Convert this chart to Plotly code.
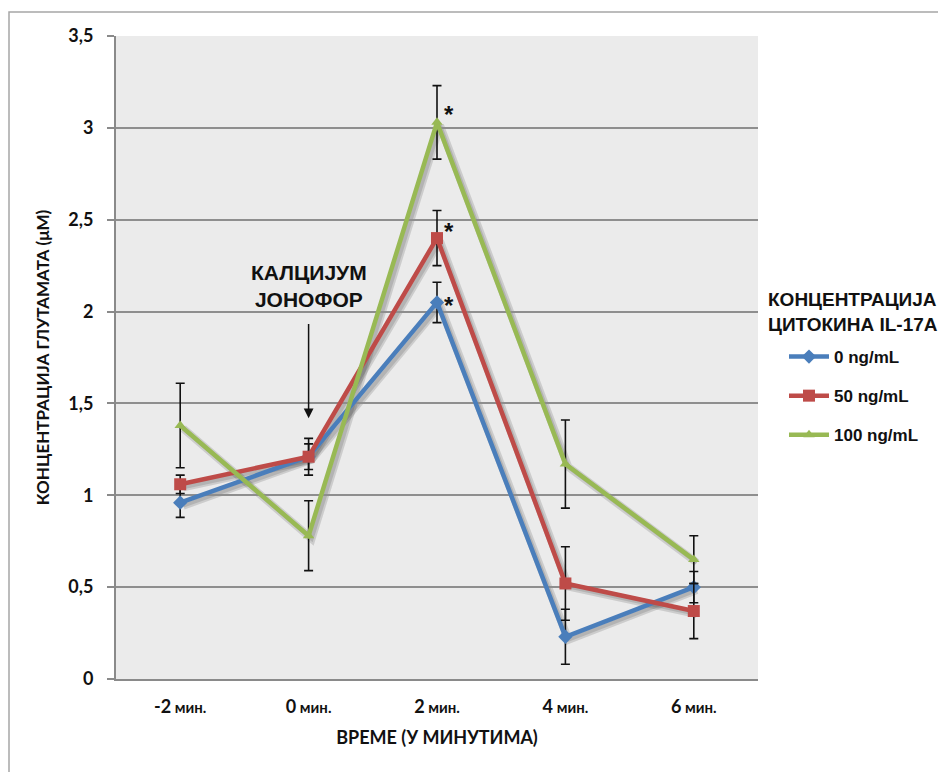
import plotly.graph_objects as go

# Time points (minutes) and glutamate concentration (µM) per IL-17A dose
times = ["-2", "0", "2", "4", "6"]
time_labels = ["-2", "0", "2", "4", "6"]

dose_names = ["0 ng/mL", "50 ng/mL", "100 ng/mL"]
glu_0 = [0.96, 1.21, 2.05, 0.23, 0.50]
glu_50 = [1.06, 1.21, 2.40, 0.52, 0.37]
glu_100 = [1.38, 0.78, 3.03, 1.17, 0.65]
err_0 = [0.08, 0.07, 0.11, 0.15, 0.085]
err_50 = [0.05, 0.10, 0.15, 0.20, 0.15]
err_100 = [0.23, 0.19, 0.20, 0.24, 0.13]

y_ticks = [0, 0.5, 1, 1.5, 2, 2.5, 3, 3.5]
significant_time = "2"

colors = ["#4a7ebb", "#be4b48", "#98b954"]
symbols = ["diamond", "square", "triangle-up"]
msizes = [11, 12, 10]

series = [glu_0, glu_50, glu_100]
errors = [err_0, err_50, err_100]

# figure geometry
FW, FH = 938, 772
ML, MR, MT, MB = 116, 180, 36, 93
W = FW - ML - MR
H = FH - MT - MB
YMAX = 3.5
SX, SY = 3, 3  # drop-shadow offset in px

CAL = "Lato, 'Open Sans', sans-serif"
ARIAL = "'Liberation Sans', Arial, sans-serif"
GRID = "#8e8e8e"

fig = go.Figure()

# soft drop shadow under each line (drawn on a slightly shifted, hidden subplot)
for vals in series:
    fig.add_trace(go.Scatter(
        x=times, y=vals, mode="lines",
        line=dict(color="rgba(0,0,0,0.13)", width=8),
        xaxis="x", yaxis="y", showlegend=False, hoverinfo="skip",
    ))
    fig.add_trace(go.Scatter(
        x=times, y=vals, mode="lines",
        line=dict(color="rgba(0,0,0,0.12)", width=4),
        xaxis="x", yaxis="y", showlegend=False, hoverinfo="skip",
    ))

for i, (name, vals, errs) in enumerate(zip(dose_names, series, errors)):
    fig.add_trace(go.Scatter(
        x=times, y=vals, name=name, mode="lines+markers",
        line=dict(color=colors[i], width=4.5),
        marker=dict(symbol=symbols[i], size=msizes[i], color=colors[i]),
        error_y=dict(type="data", array=errs, visible=True,
                     color="#111111", thickness=1.6, width=4.5),
        xaxis="x2", yaxis="y2", legendgroup=name,
    ))

# significance markers beside the 2-minute peaks
star_shift = [-3, 7, 8]
idx = times.index(significant_time)
for i, vals in enumerate(series):
    fig.add_annotation(
        x=significant_time, y=vals[idx], xref="x2", yref="y2",
        text="*", showarrow=False, xshift=12, yshift=star_shift[i],
        font=dict(family=ARIAL, size=24, color="#111111", weight="bold"),
    )

# calcium ionophore addition
fig.add_annotation(
    x=1, y=2.137, xref="x2", yref="y2",
    text="КАЛЦИЈУМ<br>ЈОНОФОР", showarrow=False,
    font=dict(family=ARIAL, size=21, color="#111111", weight="bold"),
)
fig.add_annotation(
    x=1, y=1.42, ax=1, ay=1.94, xref="x2", yref="y2", axref="x2", ayref="y2",
    text="", showarrow=True, arrowhead=2, arrowsize=1.3, arrowwidth=1.5,
    arrowcolor="#111111", standoff=0,
)

# legend heading
fig.add_annotation(
    x=(766 - ML) / W, y=(FH - MB - 312) / H, xref="paper", yref="paper",
    xanchor="left", yanchor="middle", align="left", showarrow=False,
    text="КОНЦЕНТРАЦИЈА<br>ЦИТОКИНА IL-17A",
    font=dict(family=ARIAL, size=19, color="#111111", weight="bold"),
)

tick_text = [f"{t}<span style='font-size:15px'> мин.</span>" for t in time_labels]

fig.update_layout(
    width=FW, height=FH,
    margin=dict(l=ML, r=MR, t=MT, b=MB),
    paper_bgcolor="white",
    plot_bgcolor="rgba(0,0,0,0)",
    separators=",.",
    showlegend=True,
    legend=dict(
        x=(784 - ML) / W, y=(FH - MB - 339) / H, xanchor="left", yanchor="top",
        font=dict(family=ARIAL, size=17, color="#111111", weight="bold"),
        tracegroupgap=14, bgcolor="rgba(0,0,0,0)", itemwidth=40,
    ),
    shapes=[
        # plot area background
        dict(type="rect", xref="paper", yref="paper", x0=0, x1=1, y0=0, y1=1,
             fillcolor="#ebebeb", line=dict(width=0), layer="below"),
        # outer frame
        dict(type="rect", xref="paper", yref="paper",
             x0=(9 - ML) / W, x1=1.6, y0=-0.4, y1=(FH - MB - 12) / H,
             line=dict(color="#a6a6a6", width=1.5), fillcolor="rgba(0,0,0,0)",
             layer="below"),
    ],
    # hidden axes for the shadow layer
    xaxis=dict(domain=[SX / W, 1], range=[-0.5, 4.5 - 5 * SX / W],
               type="category", categoryarray=times, visible=False),
    yaxis=dict(domain=[0, 1 - SY / H], range=[YMAX * SY / H, YMAX],
               visible=False),
    xaxis2=dict(
        domain=[0, 1], anchor="y2", type="category", categoryarray=times,
        range=[-0.5, 4.5],
        tickvals=times, ticktext=tick_text,
        tickfont=dict(family=CAL, size=18, color="#111111", weight="bold"),
        showline=True, linecolor="#8a8a8a", linewidth=2,
        showgrid=False, ticks="", ticklabelstandoff=10,
        title=dict(text="ВРЕМЕ (У МИНУТИМА)", standoff=16,
                   font=dict(family=CAL, size=18, color="#111111", weight="bold")),
    ),
    yaxis2=dict(
        domain=[0, 1], anchor="x2", range=[0, YMAX],
        tickvals=y_ticks, tickformat=".1~f",
        tickfont=dict(family=CAL, size=18, color="#111111", weight="bold"),
        showline=True, linecolor="#8a8a8a", linewidth=2,
        ticks="outside", ticklen=7, tickcolor="#8a8a8a", tickwidth=1.5,
        ticklabelstandoff=10,
        showgrid=True, gridcolor=GRID, gridwidth=1.5, zeroline=False,
        title=dict(text="КОНЦЕНТРАЦИЈА ГЛУТАМАТА (μM)", standoff=14,
                   font=dict(family=CAL, size=17, color="#111111", weight="bold")),
    ),
)

fig.write_html("out.html")
